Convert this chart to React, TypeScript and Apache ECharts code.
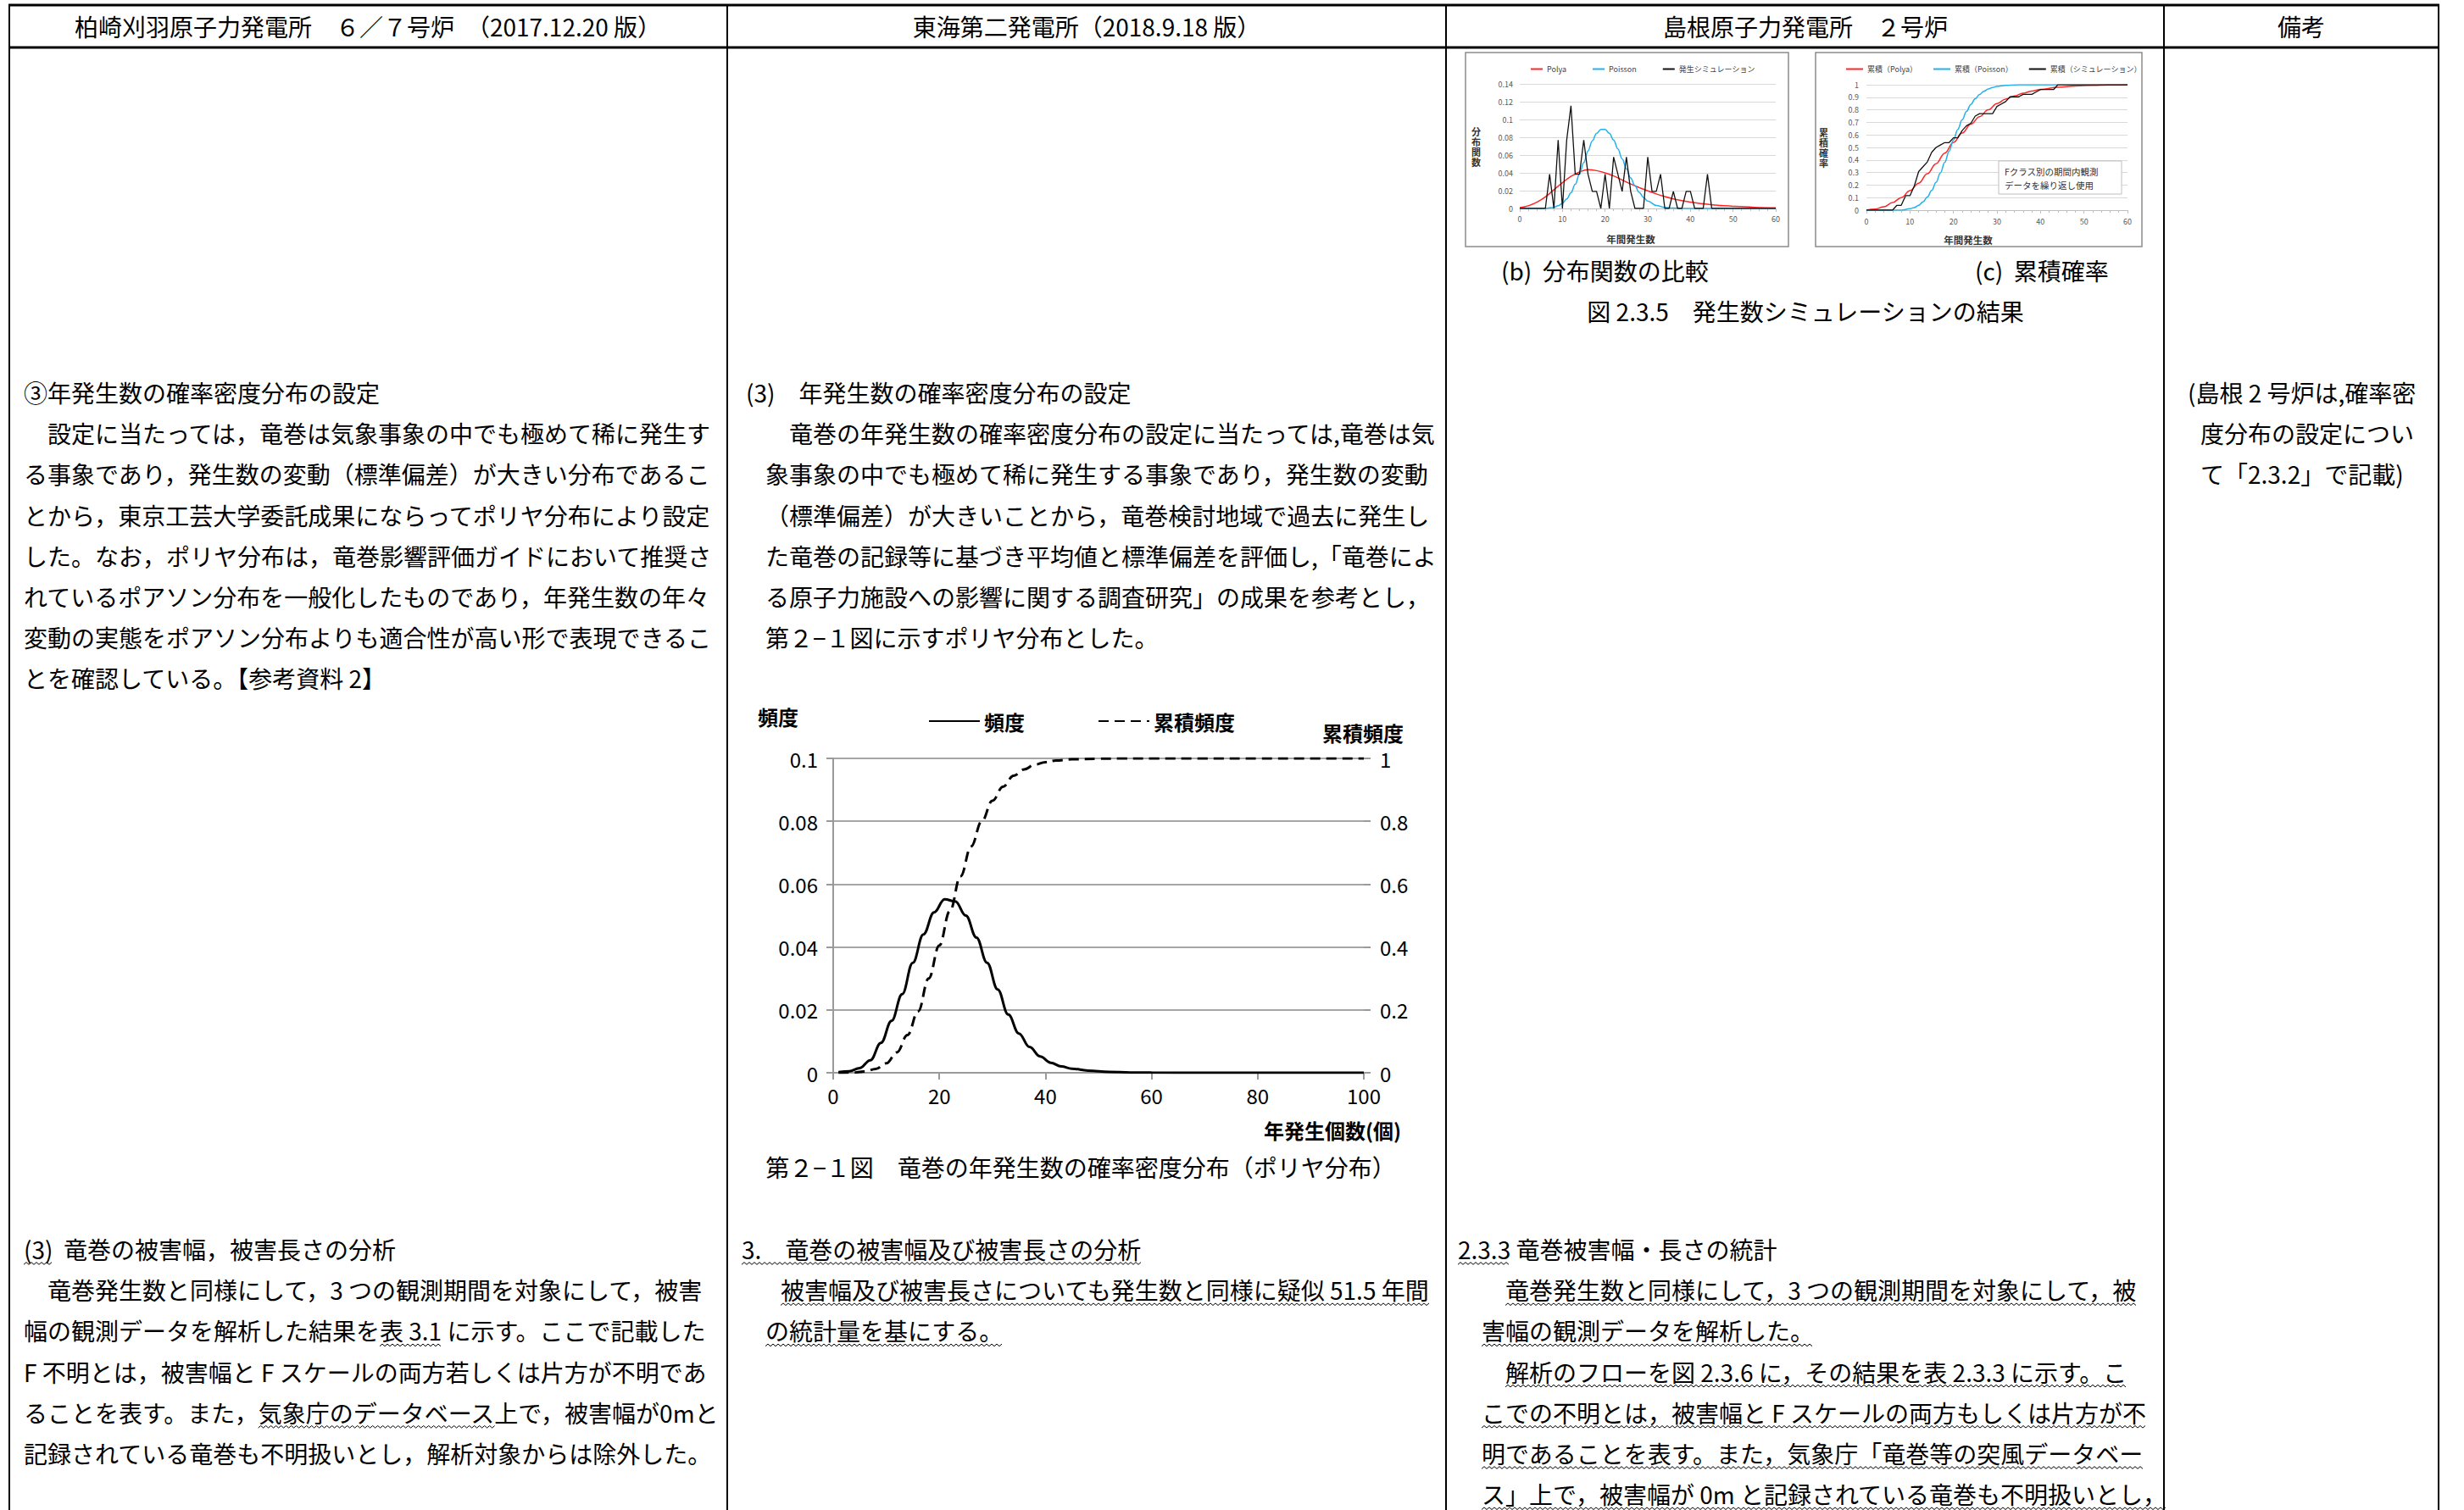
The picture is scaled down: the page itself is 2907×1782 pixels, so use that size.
import React, { useEffect, useRef } from "react";
import * as echarts from "echarts";

const FONT = "'Noto Sans CJK JP', 'Noto Sans', sans-serif";

// ---------------- data ----------------
const headerTitles = [
  "柏崎刈羽原子力発電所　６／７号炉　（2017.12.20 版）",
  "東海第二発電所（2018.9.18 版）",
  "島根原子力発電所　２号炉",
  "備考",
];

// main chart (第2-1図)
const mainX = [1, 3, 5, 7, 9, 11, 13, 15, 17, 19, 21, 23, 25, 27, 29, 31, 33, 35, 37, 39, 41, 43, 45, 48, 52, 56, 60, 70, 80, 90, 100];
const mainDensity = [0.0002, 0.0005, 0.0015, 0.004, 0.0095, 0.0165, 0.025, 0.035, 0.044, 0.051, 0.0552, 0.0545, 0.05, 0.043, 0.035, 0.0265, 0.0185, 0.0125, 0.0082, 0.0052, 0.0032, 0.002, 0.0013, 0.0007, 0.0003, 0.0001, 0.00005, 0, 0, 0, 0];
const mainCumX = [1, 4, 6, 8, 10, 12, 14, 16, 18, 20, 22, 24, 26, 28, 30, 32, 34, 36, 38, 40, 42, 45, 50, 55, 60, 70, 80, 90, 100];
const mainCum = [0, 0.001, 0.004, 0.012, 0.03, 0.065, 0.12, 0.195, 0.3, 0.405, 0.515, 0.625, 0.72, 0.8, 0.865, 0.91, 0.945, 0.965, 0.98, 0.988, 0.993, 0.997, 0.999, 1, 1, 1, 1, 1, 1];

// (b) 分布関数の比較
const bPolyaX = [0, 2, 4, 6, 8, 10, 12, 14, 16, 18, 20, 22, 24, 26, 28, 30, 32, 34, 36, 38, 40, 42, 44, 46, 48, 50, 55, 60];
const bPolya = [0.001, 0.003, 0.007, 0.013, 0.021, 0.029, 0.036, 0.041, 0.0435, 0.0425, 0.04, 0.0365, 0.032, 0.0275, 0.0235, 0.0197, 0.0163, 0.0133, 0.0108, 0.0088, 0.0072, 0.0058, 0.0047, 0.0038, 0.003, 0.0024, 0.0013, 0.0006];
const bPoissonX = [0, 4, 6, 8, 9, 10, 11, 12, 13, 14, 15, 16, 17, 18, 19, 20, 21, 22, 23, 24, 25, 26, 27, 28, 29, 30, 32, 34, 36, 40, 50, 60];
const bPoisson = [0, 0, 0.0001, 0.0013, 0.003, 0.0058, 0.0106, 0.0176, 0.0271, 0.0387, 0.0516, 0.0646, 0.076, 0.0844, 0.0888, 0.0888, 0.0846, 0.0769, 0.0669, 0.0557, 0.0446, 0.0343, 0.0254, 0.0181, 0.0125, 0.0083, 0.0034, 0.0012, 0.0004, 0, 0, 0];
// simulation frequency at 0,1,2,...,60
const bSim = [0, 0, 0, 0, 0, 0, 0, 0.0385, 0, 0.0769, 0, 0.0769, 0.1154, 0.0385, 0.0385, 0.0769, 0.0385, 0.0192, 0.0192, 0, 0.0385, 0, 0.0577, 0.0385, 0.0192, 0.0577, 0.0192, 0, 0, 0, 0.0577, 0.0192, 0.0192, 0.0385, 0, 0, 0.0192, 0, 0, 0.0192, 0.0192, 0, 0, 0, 0.0385, 0, 0, 0, 0, 0, 0, 0, 0, 0, 0, 0, 0, 0, 0, 0, 0];

// (c) 累積確率
const cPolyaX = [0, 2, 4, 6, 8, 10, 12, 14, 16, 18, 20, 22, 24, 26, 28, 30, 32, 34, 36, 38, 40, 44, 48, 52, 56, 60];
const cPolya = [0, 0.008, 0.027, 0.06, 0.1, 0.155, 0.215, 0.29, 0.37, 0.455, 0.54, 0.615, 0.685, 0.745, 0.8, 0.85, 0.885, 0.91, 0.932, 0.95, 0.963, 0.98, 0.99, 0.995, 0.998, 1];
const cPoissonX = [0, 6, 8, 10, 11, 12, 13, 14, 15, 16, 17, 18, 19, 20, 21, 22, 23, 24, 25, 26, 27, 28, 29, 30, 32, 34, 36, 44];
const cPoisson = [0, 0, 0.0003, 0.011, 0.021, 0.039, 0.066, 0.105, 0.157, 0.221, 0.297, 0.381, 0.47, 0.559, 0.644, 0.721, 0.787, 0.843, 0.888, 0.922, 0.948, 0.966, 0.978, 0.987, 0.995, 0.999, 1, 1];
// cumulative simulation at 0,1,2,...,60
const cSim = [0, 0, 0, 0, 0, 0, 0, 0.0385, 0.0385, 0.1154, 0.1154, 0.1923, 0.3077, 0.3462, 0.3846, 0.4615, 0.5, 0.5192, 0.5385, 0.5385, 0.5769, 0.5769, 0.6346, 0.6731, 0.6923, 0.75, 0.7692, 0.7692, 0.7692, 0.7692, 0.8269, 0.8462, 0.8654, 0.9038, 0.9038, 0.9038, 0.9231, 0.9231, 0.9231, 0.9423, 0.9615, 0.9615, 0.9615, 0.9615, 1, 1, 1, 1, 1, 1, 1, 1, 1, 1, 1, 1, 1, 1, 1, 1, 1];

// texts
const leftTopLines = [
  "③年発生数の確率密度分布の設定",
  "　設定に当たっては，竜巻は気象事象の中でも極めて稀に発生す",
  "る事象であり，発生数の変動（標準偏差）が大きい分布であるこ",
  "とから，東京工芸大学委託成果にならってポリヤ分布により設定",
  "した。なお，ポリヤ分布は，竜巻影響評価ガイドにおいて推奨さ",
  "れているポアソン分布を一般化したものであり，年発生数の年々",
  "変動の実態をポアソン分布よりも適合性が高い形で表現できるこ",
  "とを確認している。【参考資料 2】",
];
const midTopLines = [
  "(3)　年発生数の確率密度分布の設定",
  "　竜巻の年発生数の確率密度分布の設定に当たっては,竜巻は気",
  "象事象の中でも極めて稀に発生する事象であり，発生数の変動",
  "（標準偏差）が大きいことから，竜巻検討地域で過去に発生し",
  "た竜巻の記録等に基づき平均値と標準偏差を評価し,「竜巻によ",
  "る原子力施設への影響に関する調査研究」の成果を参考とし，",
  "第２−１図に示すポリヤ分布とした。",
];
const noteLines = ["(島根 2 号炉は,確率密", "度分布の設定につい", "て「2.3.2」で記載)"];
const captionB = "(b)  分布関数の比較";
const captionC = "(c)  累積確率";
const figTitle = "図 2.3.5　発生数シミュレーションの結果";
const mainCaption = "第２−１図　竜巻の年発生数の確率密度分布（ポリヤ分布）";
const annoLines = ["Fクラス別の期間内観測", "データを繰り返し使用"];

const leftBotLines = [
  "(3)  竜巻の被害幅，被害長さの分析",
  "　竜巻発生数と同様にして，3 つの観測期間を対象にして，被害",
  "幅の観測データを解析した結果を表 3.1 に示す。ここで記載した",
  "F 不明とは，被害幅と F スケールの両方若しくは片方が不明であ",
  "ることを表す。また，気象庁のデータベース上で，被害幅が0mと",
  "記録されている竜巻も不明扱いとし，解析対象からは除外した。",
];
const leftBotUl = [["(3)"], [], ["表 3.1"], [], ["気象庁のデータベース"], []];
const midBotLines = [
  "3.　竜巻の被害幅及び被害長さの分析",
  "被害幅及び被害長さについても発生数と同様に疑似 51.5 年間",
  "の統計量を基にする。",
];
const midBotUl = [["*"], ["*"], ["*"]];
const rightBotLines = [
  "2.3.3 竜巻被害幅・長さの統計",
  "竜巻発生数と同様にして，3 つの観測期間を対象にして，被",
  "害幅の観測データを解析した。",
  "解析のフローを図 2.3.6 に，その結果を表 2.3.3 に示す。こ",
  "こでの不明とは，被害幅と F スケールの両方もしくは片方が不",
  "明であることを表す。また，気象庁「竜巻等の突風データベー",
  "ス」上で，被害幅が 0m と記録されている竜巻も不明扱いとし，",
];
const rightBotUl = [["2.3.3"], ["*"], ["*"], ["*"], ["*"], ["*"], ["*"]];

// ---------------- helpers ----------------
const pair = (xs: number[], ys: number[]) => xs.map((x, i) => [x, ys[i]]);
const idxPair = (ys: number[]) => ys.map((y, i) => [i, y]);

function buildGraphics() {
  const canvas = document.createElement("canvas");
  const ctx = canvas.getContext("2d")!;
  const measure = (s: string, size: number) => {
    ctx.font = `${size}px ${FONT}`;
    return ctx.measureText(s).width;
  };
  const g: any[] = [];
  const FS = 28;
  const LH = 48.2;
  const txt = (text: string, x: number, y: number, opts: any = {}) => {
    g.push({
      type: "text",
      x,
      y,
      z: opts.z ?? 5,
      style: {
        text,
        fontSize: opts.size ?? FS,
        fontFamily: FONT,
        fontWeight: opts.weight ?? "normal",
        fill: opts.color ?? "#000",
        align: opts.align ?? "left",
        verticalAlign: "middle",
      },
    });
  };
  const wavy = (x1: number, x2: number, y: number) => {
    const pts: number[][] = [];
    let up = false;
    for (let x = x1; x <= x2; x += 3) {
      pts.push([x, y + (up ? -1.3 : 1.3)]);
      up = !up;
    }
    g.push({ type: "polyline", z: 5, shape: { points: pts }, style: { stroke: "#000", lineWidth: 1, fill: null } });
  };
  const para = (lines: string[], xs: number[], y0: number, ul?: string[][]) => {
    lines.forEach((s, i) => {
      const x = xs[Math.min(i, xs.length - 1)];
      const y = y0 + i * LH;
      txt(s, x, y);
      if (ul && ul[i]) {
        ul[i].forEach((sub) => {
          if (sub === "*") {
            const lead = s.startsWith("　") ? measure("　", FS) : 0;
            wavy(x + lead, x + measure(s, FS), y + 17);
          } else {
            const k = s.indexOf(sub);
            if (k >= 0) {
              const a = x + measure(s.slice(0, k), FS);
              wavy(a, a + measure(sub, FS), y + 17);
            }
          }
        });
      }
    });
  };

  // table lines
  const line = (x1: number, y1: number, x2: number, y2: number, w: number) =>
    g.push({ type: "line", z: 5, shape: { x1, y1, x2, y2 }, style: { stroke: "#000", lineWidth: w } });
  line(10, 6, 2878, 6, 3);
  line(10, 56, 2878, 56, 3);
  [11, 858, 1706, 2553, 2877].forEach((x) => line(x, 5, x, 1782, 2));

  // headers
  const centers = [434, 1282, 2130, 2715];
  headerTitles.forEach((t, i) => txt(t, centers[i], 31, { align: "center" }));

  // paragraphs
  para(leftTopLines, [28], 463);
  para(midTopLines, [880, 903], 463);
  para(noteLines, [2581, 2596], 463);
  para(leftBotLines, [28], 1474, leftBotUl);
  para(midBotLines, [875, 921, 903], 1474, midBotUl);
  para(rightBotLines, [1720, 1776, 1748, 1776, 1748], 1474, rightBotUl);

  // captions
  txt(captionB, 1771, 319);
  txt(captionC, 2330, 319);
  txt(figTitle, 2130, 367, { align: "center" });
  txt(mainCaption, 1275, 1377, { align: "center" });

  // main chart axis titles
  txt("頻度", 918, 845, { size: 24, weight: "bold", align: "center" });
  txt("累積頻度", 1608, 864, { size: 24, weight: "bold", align: "center" });
  txt("年発生個数(個)", 1572, 1333, { size: 24, weight: "bold", align: "center" });

  // small chart frames
  g.push({ type: "rect", z: 1, shape: { x: 1729, y: 62, width: 381, height: 229 }, style: { fill: null, stroke: "#8c8c8c", lineWidth: 1.5 } });
  g.push({ type: "rect", z: 1, shape: { x: 2142, y: 62, width: 385, height: 229 }, style: { fill: null, stroke: "#8c8c8c", lineWidth: 1.5 } });
  // annotation box in (c)
  g.push({ type: "rect", z: 20, shape: { x: 2358, y: 190, width: 145, height: 39 }, style: { fill: "#fff", stroke: "#bfbfbf", lineWidth: 1 } });
  txt(annoLines[0], 2365, 202, { size: 10.5, z: 21, color: "#333" });
  txt(annoLines[1], 2365, 218, { size: 10.5, z: 21, color: "#333" });

  return g;
}

function buildOption() {
  const smallLabel = { fontSize: 9, color: "#595959", fontFamily: FONT };
  const smallSplit = { show: true, lineStyle: { color: "#d9d9d9", width: 1 } };
  const smallAxisLine = { show: true, lineStyle: { color: "#bfbfbf", width: 1 } };
  const bigGray = "#9a9a9a";
  const hideSymbol = { opacity: 0 };
  return {
    animation: false,
    backgroundColor: "#fff",
    textStyle: { fontFamily: FONT },
    grid: [
      { left: 983, top: 895, width: 626, height: 371 },
      { left: 1793, top: 99, width: 302, height: 147 },
      { left: 2202, top: 100, width: 308, height: 148 },
    ],
    legend: [
      {
        data: ["頻度", "累積頻度"],
        left: 1090,
        top: 834,
        itemWidth: 60,
        itemHeight: 24,
        itemGap: 86,
        itemStyle: hideSymbol,
        textStyle: { fontSize: 24, fontWeight: "bold", color: "#000", fontFamily: FONT },
      },
      {
        data: ["Polya", "Poisson", "発生シミュレーション"],
        left: 1800,
        top: 72,
        itemWidth: 14,
        itemHeight: 10,
        itemGap: 30,
        itemStyle: hideSymbol,
        textStyle: { fontSize: 9, color: "#444", fontFamily: FONT },
      },
      {
        data: ["累積（Polya）", "累積（Poisson）", "累積（シミュレーション）"],
        left: 2172,
        top: 72,
        itemWidth: 20,
        itemHeight: 10,
        itemGap: 18,
        itemStyle: hideSymbol,
        textStyle: { fontSize: 9, color: "#444", fontFamily: FONT },
      },
    ],
    xAxis: [
      {
        gridIndex: 0,
        type: "value",
        min: 0,
        max: 100,
        interval: 20,
        axisLine: { show: true, onZero: false, lineStyle: { color: bigGray, width: 2 } },
        axisTick: { show: true, length: 8, lineStyle: { color: bigGray, width: 2 } },
        axisLabel: { fontSize: 24, color: "#000", margin: 14, fontFamily: FONT },
        splitLine: { show: false },
      },
      {
        gridIndex: 1,
        type: "value",
        min: 0,
        max: 60,
        interval: 10,
        axisLine: { ...smallAxisLine, onZero: false },
        axisTick: { show: true, length: 4, lineStyle: { color: "#bfbfbf" } },
        minorTick: { show: true, splitNumber: 5, length: 3, lineStyle: { color: "#bfbfbf" } },
        axisLabel: { ...smallLabel, margin: 8 },
        splitLine: { show: false },
        name: "年間発生数",
        nameLocation: "middle",
        nameGap: 30,
        nameTextStyle: { fontSize: 11.5, fontWeight: "bold", color: "#333", padding: [0, 40, 0, 0], fontFamily: FONT },
      },
      {
        gridIndex: 2,
        type: "value",
        min: 0,
        max: 60,
        interval: 10,
        axisLine: { ...smallAxisLine, onZero: false },
        axisTick: { show: true, length: 4, lineStyle: { color: "#bfbfbf" } },
        minorTick: { show: true, splitNumber: 5, length: 3, lineStyle: { color: "#bfbfbf" } },
        axisLabel: { ...smallLabel, margin: 9 },
        splitLine: { show: false },
        name: "年間発生数",
        nameLocation: "middle",
        nameGap: 29,
        nameTextStyle: { fontSize: 11.5, fontWeight: "bold", color: "#333", padding: [0, 68, 0, 0], fontFamily: FONT },
      },
    ],
    yAxis: [
      {
        gridIndex: 0,
        type: "value",
        min: 0,
        max: 0.1,
        interval: 0.02,
        axisLine: { show: true, lineStyle: { color: bigGray, width: 2 } },
        axisTick: { show: true, length: 8, lineStyle: { color: bigGray, width: 2 } },
        axisLabel: { fontSize: 24, color: "#000", margin: 18, fontFamily: FONT },
        splitLine: { show: true, lineStyle: { color: "#a6a6a6", width: 2 } },
      },
      {
        gridIndex: 0,
        type: "value",
        position: "right",
        min: 0,
        max: 1,
        interval: 0.2,
        axisLine: { show: false },
        axisTick: { show: true, length: 8, lineStyle: { color: bigGray, width: 2 } },
        axisLabel: { fontSize: 24, color: "#000", margin: 19, fontFamily: FONT },
        splitLine: { show: false },
      },
      {
        gridIndex: 1,
        type: "value",
        min: 0,
        max: 0.14,
        interval: 0.02,
        axisLine: { show: false },
        axisTick: { show: false },
        axisLabel: { ...smallLabel, margin: 8 },
        splitLine: smallSplit,
        name: "分\n布\n関\n数",
        nameLocation: "middle",
        nameRotate: 0,
        nameGap: 46,
        nameTextStyle: { fontSize: 11, fontWeight: "bold", color: "#333", lineHeight: 12, fontFamily: FONT },
      },
      {
        gridIndex: 2,
        type: "value",
        min: 0,
        max: 1,
        interval: 0.1,
        axisLine: { show: false },
        axisTick: { show: false },
        axisLabel: { ...smallLabel, margin: 9 },
        splitLine: smallSplit,
        name: "累\n積\n確\n率",
        nameLocation: "middle",
        nameRotate: 0,
        nameGap: 45,
        nameTextStyle: { fontSize: 11, fontWeight: "bold", color: "#333", lineHeight: 12, fontFamily: FONT },
      },
    ],
    series: [
      {
        name: "頻度",
        type: "line",
        xAxisIndex: 0,
        yAxisIndex: 0,
        data: pair(mainX, mainDensity),
        smooth: 0.4,
        smoothMonotone: "x",
        symbol: "none",
        itemStyle: { color: "#000" },
        lineStyle: { color: "#000", width: 3 },
        z: 3,
      },
      {
        name: "累積頻度",
        type: "line",
        xAxisIndex: 0,
        yAxisIndex: 1,
        data: pair(mainCumX, mainCum),
        smooth: 0.4,
        smoothMonotone: "x",
        symbol: "none",
        itemStyle: { color: "#000" },
        lineStyle: { color: "#000", width: 3, type: [12, 7] },
        z: 3,
      },
      {
        name: "Polya",
        type: "line",
        xAxisIndex: 1,
        yAxisIndex: 2,
        data: pair(bPolyaX, bPolya),
        smooth: 0.4,
        symbol: "none",
        itemStyle: { color: "#ff2626" },
        lineStyle: { color: "#ff2626", width: 1.5 },
      },
      {
        name: "Poisson",
        type: "line",
        xAxisIndex: 1,
        yAxisIndex: 2,
        data: pair(bPoissonX, bPoisson),
        smooth: 0.4,
        smoothMonotone: "x",
        symbol: "none",
        itemStyle: { color: "#21b1ec" },
        lineStyle: { color: "#21b1ec", width: 1.5 },
      },
      {
        name: "発生シミュレーション",
        type: "line",
        xAxisIndex: 1,
        yAxisIndex: 2,
        data: idxPair(bSim),
        symbol: "none",
        itemStyle: { color: "#111" },
        lineStyle: { color: "#111", width: 1.3 },
      },
      {
        name: "累積（Polya）",
        type: "line",
        xAxisIndex: 2,
        yAxisIndex: 3,
        data: pair(cPolyaX, cPolya),
        smooth: 0.4,
        smoothMonotone: "x",
        symbol: "none",
        itemStyle: { color: "#ff2626" },
        lineStyle: { color: "#ff2626", width: 1.5 },
      },
      {
        name: "累積（Poisson）",
        type: "line",
        xAxisIndex: 2,
        yAxisIndex: 3,
        data: pair(cPoissonX, cPoisson),
        smooth: 0.4,
        smoothMonotone: "x",
        symbol: "none",
        itemStyle: { color: "#21b1ec" },
        lineStyle: { color: "#21b1ec", width: 1.5 },
      },
      {
        name: "累積（シミュレーション）",
        type: "line",
        xAxisIndex: 2,
        yAxisIndex: 3,
        data: idxPair(cSim),
        symbol: "none",
        itemStyle: { color: "#111" },
        lineStyle: { color: "#111", width: 1.3 },
      },
    ],
    graphic: { elements: buildGraphics() },
  };
}

export default function App() {
  const ref = useRef<HTMLDivElement>(null);
  useEffect(() => {
    document.body.style.margin = "0";
    const chart = echarts.init(ref.current!, null, { renderer: "svg", width: 2907, height: 1782 });
    chart.setOption(buildOption() as any);
    return () => chart.dispose();
  }, []);
  return (
    <div
      ref={ref}
      style={{ position: "absolute", left: 0, top: 0, width: 2907, height: 1782, background: "#fff" }}
    />
  );
}
